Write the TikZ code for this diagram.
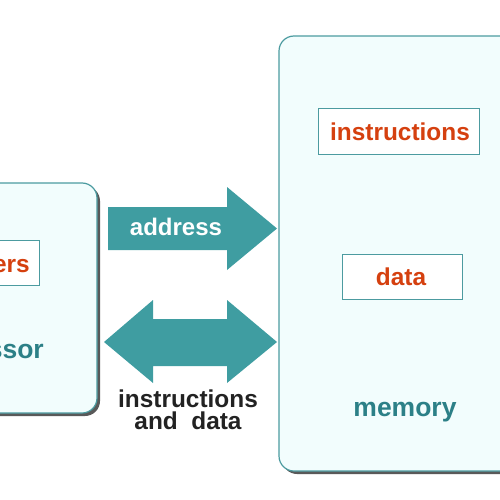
\documentclass[tikz,border=0pt]{standalone}
\usepackage{fontspec}
\setmainfont{Liberation Sans}
\definecolor{arrowteal}{HTML}{3F9DA1}
\definecolor{boxfill}{HTML}{F2FDFD}
\definecolor{boxline}{HTML}{4C9BA0}
\definecolor{orangetxt}{HTML}{D5400F}
\definecolor{memtxt}{HTML}{2C8087}
\definecolor{darktxt}{HTML}{222222}
\tikzset{
  unitbox/.style={draw=boxline, line width=1.2pt, fill=boxfill, rounded corners=15pt},
  shadowbox/.style={fill=black!65, rounded corners=15pt},
  regbox/.style={draw=boxline, line width=1pt, fill=white},
  bigtxt/.style={font=\fontsize{24.4}{27}\selectfont\bfseries, inner sep=0pt},
  unittxt/.style={font=\fontsize{26.5}{29}\selectfont\bfseries, inner sep=0pt, text=memtxt},
  arrowshape/.style={fill=arrowteal, draw=none}
}
\begin{document}
\begin{tikzpicture}[x=1pt,y=-1pt]
\useasboundingbox (0,0) rectangle (500,500);
\clip (0,0) rectangle (500,500);
% processor
\fill[shadowbox] (-150,186) rectangle (100,416);
\draw[unitbox] (-150,183) rectangle (97,413);
\draw[regbox] (-100,240) rectangle (39,285);
\node[bigtxt, text=orangetxt, anchor=base east] (reg) at (30,272) {registers};
\node[unittxt, anchor=base east] (proc) at (44,358) {processor};
% memory
\fill[shadowbox] (282,39) rectangle (540,474);
\draw[unitbox] (279,36) rectangle (537,471);
\draw[regbox] (318,109) rectangle (479,154);
\node[bigtxt, text=orangetxt, anchor=base] (instr) at (400,140) {instructions};
\draw[regbox] (342,254) rectangle (462,299);
\node[bigtxt, text=orangetxt, anchor=base] (data) at (401,285) {data};
\node[unittxt, anchor=base] (mem) at (405,416) {memory};
% address arrow
\fill[arrowshape] (108,207) -- (227,207) -- (227,187) -- (277,228.5) -- (227,270) -- (227,250) -- (108,250) -- cycle;
\node[bigtxt, text=white, font=\fontsize{24}{27}\selectfont\bfseries, anchor=base] (addr) at (176,235) {address};
% instructions and data arrow
\fill[arrowshape] (104,342) -- (153,300) -- (153,319) -- (227,319) -- (227,300) -- (277,342) -- (227,383) -- (227,366) -- (153,366) -- (153,383) -- cycle;
\node[bigtxt, text=darktxt, anchor=base] (iad1) at (188,407) {instructions};
\node[bigtxt, text=darktxt, anchor=base] (iad2) at (188,429) {and\ \ data};
\end{tikzpicture}
\end{document}
